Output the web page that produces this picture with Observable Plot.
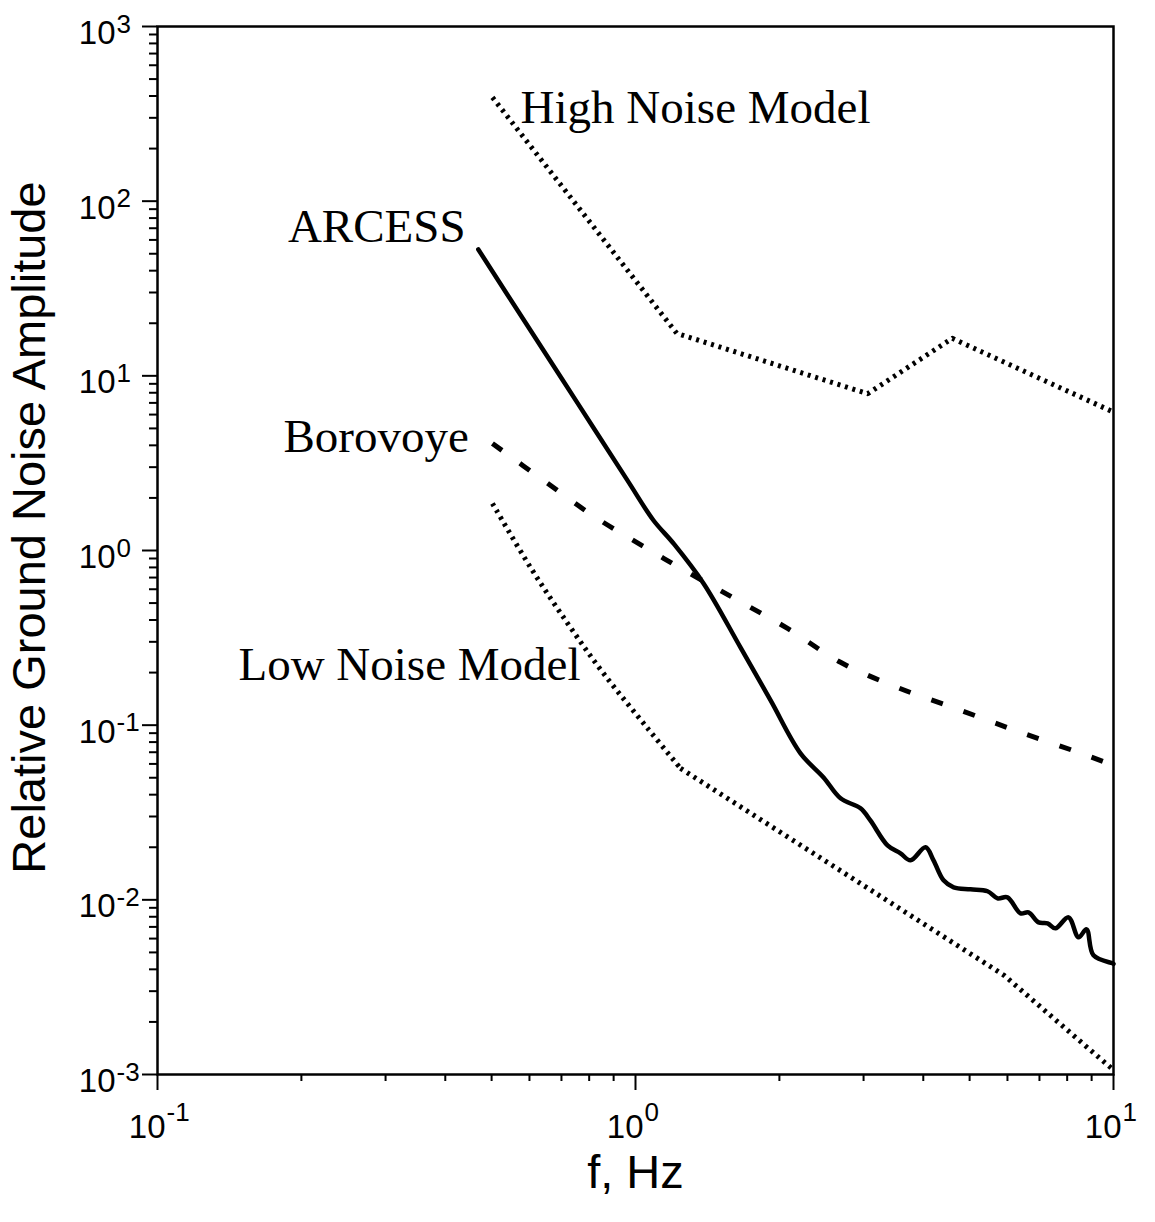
<!DOCTYPE html>
<html>
<head>
<meta charset="utf-8">
<script src="https://cdn.jsdelivr.net/npm/d3@7"></script>
<script src="https://cdn.jsdelivr.net/npm/@observablehq/plot@0.6"></script>
<style>
  html, body { margin: 0; padding: 0; background: #fff; }
  #chart { width: 1155px; height: 1222px; }
</style>
</head>
<body>
<div id="chart"></div>
<script>
// ---- data (frequency in Hz, relative amplitude) ----
const arcessF = [0.469, 0.594, 0.756, 0.962, 1.09, 1.20, 1.388, 1.658, 1.916, 2.214, 2.474, 2.685, 2.956, 3.10, 3.367, 3.584, 3.762, 4.044, 4.202, 4.41, 4.63, 5.02, 5.45, 5.72, 6.00, 6.39, 6.64, 6.97, 7.28, 7.56, 8.05, 8.45, 8.78, 9.08, 9.95, 10];
const arcessA = [52.9, 19.4, 7.0, 2.52, 1.49, 1.10, 0.648, 0.279, 0.139, 0.069, 0.0502, 0.0381, 0.0334, 0.0285, 0.0205, 0.01845, 0.01683, 0.0200, 0.01683, 0.01294, 0.0118, 0.01149, 0.0112, 0.0102, 0.01033, 0.00837, 0.00848, 0.00743, 0.00734, 0.00687, 0.00794, 0.0061, 0.00678, 0.00481, 0.00433, 0.0043];

const borovoyeF = [0.502, 0.642, 0.825, 1.075, 1.224, 1.596, 2.08, 2.685, 3.53, 4.79, 6.39, 8.45, 10];
const borovoyeA = [4.10, 2.52, 1.547, 1.00, 0.811, 0.539, 0.358, 0.229, 0.1645, 0.1216, 0.0910, 0.0698, 0.0589];

const highF = [0.502, 1.22, 3.06, 4.60, 10];
const highA = [393, 17.5, 7.9, 16.4, 6.2];

// low noise model: curved part, then straight segments
const lowCurveF = [0.502, 0.603, 0.721, 0.857, 1.06, 1.242];
const lowCurveA = [1.86, 0.80, 0.383, 0.198, 0.096, 0.0566];
const lowLineF = [1.242, 5.9, 10];
const lowLineA = [0.0566, 0.0037, 0.00106];

// curve labels: [text, f, amplitude, anchor]
const curveLabels = [
  ["High Noise Model", 0.575, 340, "start"],
  ["ARCESS", 0.441, 71.6, "end"],
  ["Borovoye", 0.448, 4.44, "end"],
  ["Low Noise Model", 0.1477, 0.22, "start"]
];

// axis ticks and labels
const xMajor = [0.1, 1, 10];
const xExp = ["-1", "0", "1"];
const yMajor = [1e3, 1e2, 1e1, 1e0, 1e-1, 1e-2, 1e-3];
const yExp = ["3", "2", "1", "0", "-1", "-2", "-3"];
const mantissa = "10";
const xTitle = "f, Hz";
const yTitle = "Relative Ground Noise Amplitude";

// ---- build ----
const zip = (F, A) => F.map((f, i) => ({f, a: A[i]}));
const arcess = zip(arcessF, arcessA);
const borovoye = zip(borovoyeF, borovoyeA);
const high = zip(highF, highA);
const lowCurve = zip(lowCurveF, lowCurveA);
const lowLine = zip(lowLineF, lowLineA);
const labels = curveLabels.map(([text, f, a, anchor]) => ({text, f, a, anchor}));

function minorTicks(lo, hi) {
  const out = [];
  for (let e = lo; e < hi; e++) for (let m = 2; m <= 9; m++) out.push(m * Math.pow(10, e));
  return out;
}
const xMinor = minorTicks(-1, 1);
const yMinor = minorTicks(-3, 3);

const sans = "'Liberation Sans', Arial, Helvetica, sans-serif";
const serif = "'Liberation Serif', 'Times New Roman', Times, serif";
const dotted = {stroke: "#000", strokeWidth: 5, strokeDasharray: "3,4.8", strokeLinecap: "butt"};
const dashed = {stroke: "#000", strokeWidth: 5, strokeDasharray: "12,22", strokeLinecap: "butt"};

const chart = Plot.plot({
  width: 1155,
  height: 1222,
  marginLeft: 157,
  marginRight: 42,
  marginTop: 26,
  marginBottom: 148,
  style: {background: "#fff", color: "#000"},
  x: {type: "log", domain: [0.1, 10]},
  y: {type: "log", domain: [1e-3, 1e3]},
  marks: [
    // axes ticks
    Plot.axisX({ticks: xMinor, tickSize: 7, tickFormat: () => "", strokeWidth: 2, anchor: "bottom", label: null}),
    Plot.axisX({ticks: xMajor, tickSize: 16, tickFormat: () => "", strokeWidth: 2, anchor: "bottom", label: null}),
    Plot.axisY({ticks: yMinor, tickSize: 8, tickFormat: () => "", strokeWidth: 2, anchor: "left", label: null}),
    Plot.axisY({ticks: yMajor, tickSize: 15, tickFormat: () => "", strokeWidth: 2, anchor: "left", label: null}),
    // tick labels (10 with superscript exponent)
    Plot.text(xMajor, {x: d => d, frameAnchor: "bottom", text: () => mantissa, textAnchor: "end", dx: 8, dy: 63, fontSize: 33, fontFamily: sans, fill: "#000"}),
    Plot.text(xMajor, {x: d => d, frameAnchor: "bottom", text: (d, i) => xExp[i], textAnchor: "start", dx: 9, dy: 46, fontSize: 26, fontFamily: sans, fill: "#000"}),
    Plot.text(yMajor, {y: d => d, frameAnchor: "left", text: () => mantissa, textAnchor: "end", dx: -42, dy: 7, fontSize: 33, fontFamily: sans, fill: "#000"}),
    Plot.text(yMajor, {y: d => d, frameAnchor: "left", text: (d, i) => yExp[i], textAnchor: "start", dx: -41, dy: -2, fontSize: 26, fontFamily: sans, fill: "#000"}),
    // axis titles
    Plot.text([xTitle], {frameAnchor: "bottom", text: d => d, textAnchor: "middle", dy: 113, fontSize: 47, fontFamily: sans, fill: "#000"}),
    Plot.text([yTitle], {frameAnchor: "left", text: d => d, textAnchor: "middle", rotate: -90, dx: -128, dy: -23, fontSize: 47, fontFamily: sans, fill: "#000"}),
    // curves
    Plot.line(high, {x: "f", y: "a", ...dotted}),
    Plot.line(lowCurve, {x: "f", y: "a", ...dotted, curve: "catmull-rom"}),
    Plot.line(lowLine, {x: "f", y: "a", ...dotted}),
    Plot.line(borovoye, {x: "f", y: "a", ...dashed, curve: "catmull-rom"}),
    Plot.line(arcess, {x: "f", y: "a", stroke: "#000", strokeWidth: 4.5, curve: "catmull-rom"}),
    // curve labels
    Plot.text(labels.filter(d => d.anchor === "start"), {x: "f", y: "a", text: "text", textAnchor: "start", fontSize: 47, fontFamily: serif, fill: "#000"}),
    Plot.text(labels.filter(d => d.anchor === "end"), {x: "f", y: "a", text: "text", textAnchor: "end", fontSize: 47, fontFamily: serif, fill: "#000"}),
    Plot.frame({stroke: "#000", strokeWidth: 2.5})
  ]
});
document.getElementById("chart").appendChild(chart);
</script>
</body>
</html>
